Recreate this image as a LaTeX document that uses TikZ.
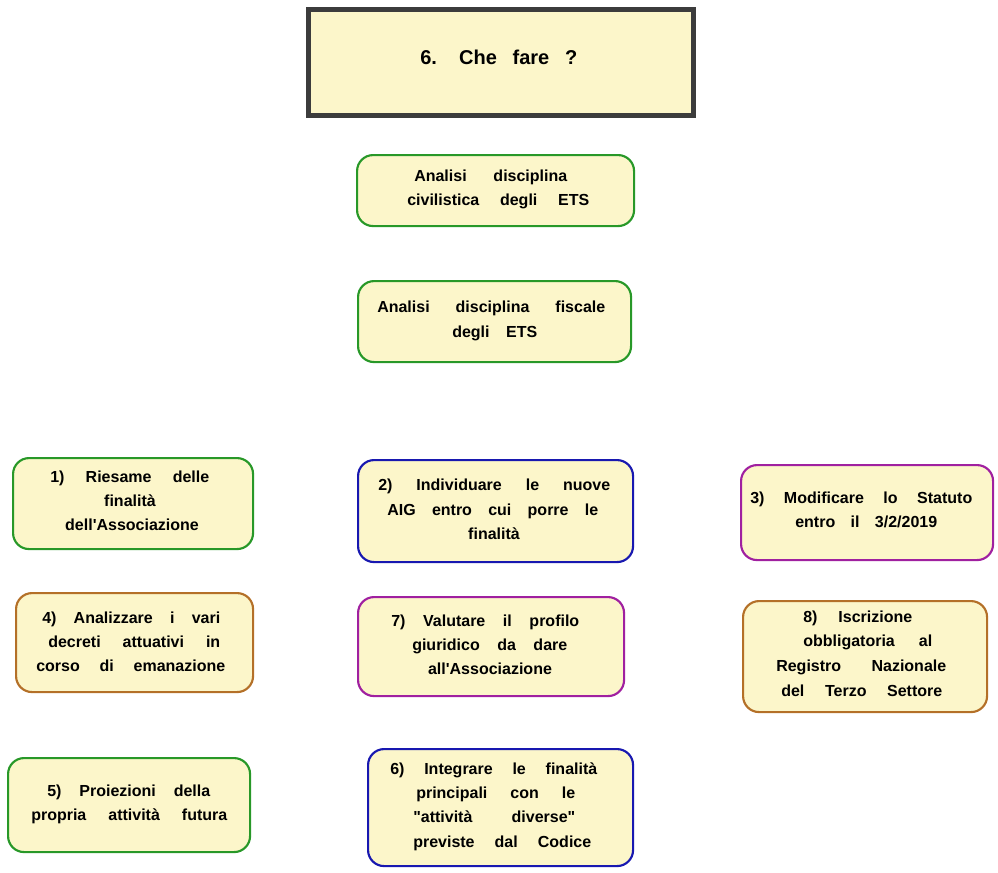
\documentclass[tikz,border=0pt]{standalone}
\usepackage{fontspec}
\newfontfamily\lsans{Liberation Sans}
\newdimen\mypx \mypx=0.75pt
\definecolor{boxfill}{RGB}{252,246,202}
\definecolor{cgreen}{RGB}{40,152,40}
\definecolor{cblue}{RGB}{24,24,176}
\definecolor{cpurple}{RGB}{160,32,160}
\definecolor{cbrown}{RGB}{180,112,40}
\definecolor{cgray}{RGB}{60,60,60}
\tikzset{
  rbox/.style={draw=#1, line width=1.6pt, fill=boxfill, rounded corners=12pt},
  tbox/.style={draw=cgray, line width=4pt, fill=boxfill},
  txt/.style={inner sep=0pt, font=\lsans\bfseries\fontsize{12pt}{14pt}\selectfont},
}
% spread line: name, left x, baseline y, width(px), text
\newcommand{\sline}[5]{\node[txt,anchor=base west] (#1) at (#2,#3) {\makebox[#4\mypx][s]{#5}};}
% single word line: name, centre x, baseline y, text
\newcommand{\wline}[4]{\node[txt,anchor=base] (#1) at (#2,#3) {#4};}
\begin{document}
\begin{tikzpicture}[x=0.75pt,y=-0.75pt]
\useasboundingbox (0,0) rectangle (998,872);
% title
\node[tbox, minimum width=385\mypx, minimum height=106\mypx, anchor=north west] (title) at (305.5,7) {};
\node[txt, font=\lsans\bfseries\fontsize{15pt}{18pt}\selectfont, anchor=base west] (titletext) at (420,64) {\makebox[157\mypx][s]{6. \ Che \ fare \ ?}};
% boxes
\node[rbox=cgreen, minimum width=277\mypx, minimum height=71\mypx, anchor=north west] (ba) at (356,154) {};
\node[rbox=cgreen, minimum width=273\mypx, minimum height=81\mypx, anchor=north west] (bb) at (357,280) {};
\node[rbox=cgreen, minimum width=240\mypx, minimum height=91\mypx, anchor=north west] (b1) at (12,457) {};
\node[rbox=cblue, minimum width=275\mypx, minimum height=102\mypx, anchor=north west] (b2) at (357,459) {};
\node[rbox=cpurple, minimum width=252\mypx, minimum height=95\mypx, anchor=north west] (b3) at (740,464) {};
\node[rbox=cbrown, minimum width=237\mypx, minimum height=99\mypx, anchor=north west] (b4) at (15,592) {};
\node[rbox=cpurple, minimum width=266\mypx, minimum height=99\mypx, anchor=north west] (b7) at (357,596) {};
\node[rbox=cbrown, minimum width=244\mypx, minimum height=111\mypx, anchor=north west] (b8) at (742,600) {};
\node[rbox=cgreen, minimum width=242\mypx, minimum height=94\mypx, anchor=north west] (b5) at (7,757) {};
\node[rbox=cblue, minimum width=265\mypx, minimum height=117\mypx, anchor=north west] (b6) at (367,748) {};
% texts
\sline{ta1}{414}{181}{153}{Analisi disciplina}
\sline{ta2}{407}{205}{182}{civilistica degli ETS}
\sline{tb1}{377}{312}{228}{Analisi disciplina fiscale}
\sline{tb2}{452}{337}{85}{degli ETS}
\sline{t1a}{50}{482}{159}{1) Riesame delle}
\wline{t1b}{130}{506}{finalità}
\wline{t1c}{132}{530}{dell'Associazione}
\sline{t4a}{42}{623}{178}{4) Analizzare i vari}
\sline{t4b}{48}{647}{172}{decreti attuativi in}
\sline{t4c}{36}{671}{189}{corso di emanazione}
\sline{t5a}{47}{796}{163}{5) Proiezioni della}
\sline{t5b}{31}{820}{196}{propria attività futura}
\sline{t2a}{378}{490}{232}{2) Individuare le nuove}
\sline{t2b}{387}{515}{211}{AIG entro cui porre le}
\wline{t2c}{494}{539}{finalità}
\sline{t7a}{391}{626}{188}{7) Valutare il profilo}
\sline{t7b}{412}{650}{155}{giuridico da dare}
\wline{t7c}{490}{674}{all'Associazione}
\sline{t3a}{750}{503}{222}{3) Modificare lo Statuto}
\sline{t3b}{795}{527}{142}{entro il 3/2/2019}
\sline{t8a}{803}{622}{109}{8) Iscrizione}
\sline{t8b}{803}{646}{129}{obbligatoria al}
\sline{t8c}{776}{671}{170}{Registro Nazionale}
\sline{t8d}{781}{696}{161}{del Terzo Settore}
\sline{t6a}{390}{774}{207}{6) Integrare le finalità}
\sline{t6b}{416}{798}{159}{principali con le}
\sline{t6c}{413}{822}{162}{"attività diverse"}
\sline{t6d}{413}{847}{178}{previste dal Codice}
\end{tikzpicture}
\end{document}
